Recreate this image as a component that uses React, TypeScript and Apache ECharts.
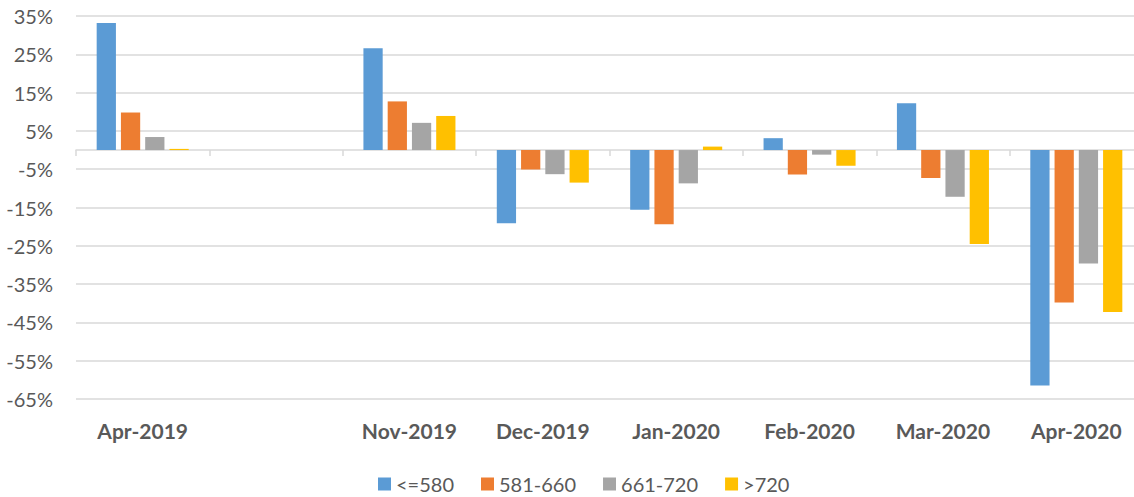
import React, { useEffect, useRef } from "react";
import * as echarts from "echarts";

const categories = ["Apr-2019", "", "Nov-2019", "Dec-2019", "Jan-2020", "Feb-2020", "Mar-2020", "Apr-2020"];
const seriesNames = ["<=580", "581-660", "661-720", ">720"];
const s580 = [33.2, null, 26.6, -19.1, -15.6, 3.1, 12.2, -61.5];
const s660 = [9.8, null, 12.7, -5.1, -19.4, -6.4, -7.3, -39.8];
const s720 = [3.4, null, 7.1, -6.3, -8.7, -1.2, -12.2, -29.6];
const sOver = [0.3, null, 8.9, -8.5, 0.9, -4.1, -24.5, -42.3];
const colors = ["#5B9BD5", "#ED7D31", "#A5A5A5", "#FFC000"];

export default function App() {
  const ref = useRef<HTMLDivElement>(null);
  useEffect(() => {
    document.body.style.margin = "0";
    document.body.style.overflow = "hidden";
    document.documentElement.style.overflow = "hidden";
    const chart = echarts.init(ref.current!, null, { renderer: "svg" });
    const font = "Lato, 'Noto Sans', sans-serif";
    const data = [s580, s660, s720, sOver];
    chart.setOption({
      animation: false,
      color: colors,
      textStyle: { fontFamily: font },
      grid: { left: 76, right: 0, top: 16, bottom: 98, containLabel: false },
      legend: {
        data: seriesNames,
        left: 373,
        top: 469,
        icon: "rect",
        itemWidth: 13,
        itemHeight: 13,
        itemGap: 27,
        textStyle: { fontSize: 20, color: "#595959", fontFamily: font },
      },
      xAxis: [
        {
          type: "category",
          data: categories,
          position: "bottom",
          axisLine: { show: false, onZero: false },
          axisTick: { show: false },
          axisLabel: { fontSize: 21, fontWeight: "bold", color: "#595959", margin: 21, fontFamily: font, interval: 0 },
        },
        {
          type: "category",
          data: categories,
          position: "bottom",
          axisLine: { show: true, onZero: true, lineStyle: { color: "#D9D9D9", width: 1.5 } },
          axisTick: { show: true, length: 6, lineStyle: { color: "#D9D9D9", width: 1.5 }, interval: 0 },
          axisLabel: { show: false },
        },
      ],
      yAxis: {
        type: "value",
        min: -65,
        max: 35,
        interval: 10,
        axisLine: { show: false },
        axisTick: { show: false },
        splitLine: { lineStyle: { color: "#D9D9D9", width: 1.5 } },
        axisLabel: { formatter: (v: number) => `${v}%`, fontSize: 20, color: "#595959", margin: 23, fontFamily: font },
      },
      series: seriesNames.map((name, i) => ({
        name,
        type: "bar",
        xAxisIndex: 0,
        data: data[i],
        barCategoryGap: "31%",
        barGap: "26%",
      })),
    });
    return () => chart.dispose();
  }, []);
  return <div ref={ref} style={{ width: 1143, height: 497 }} />;
}
